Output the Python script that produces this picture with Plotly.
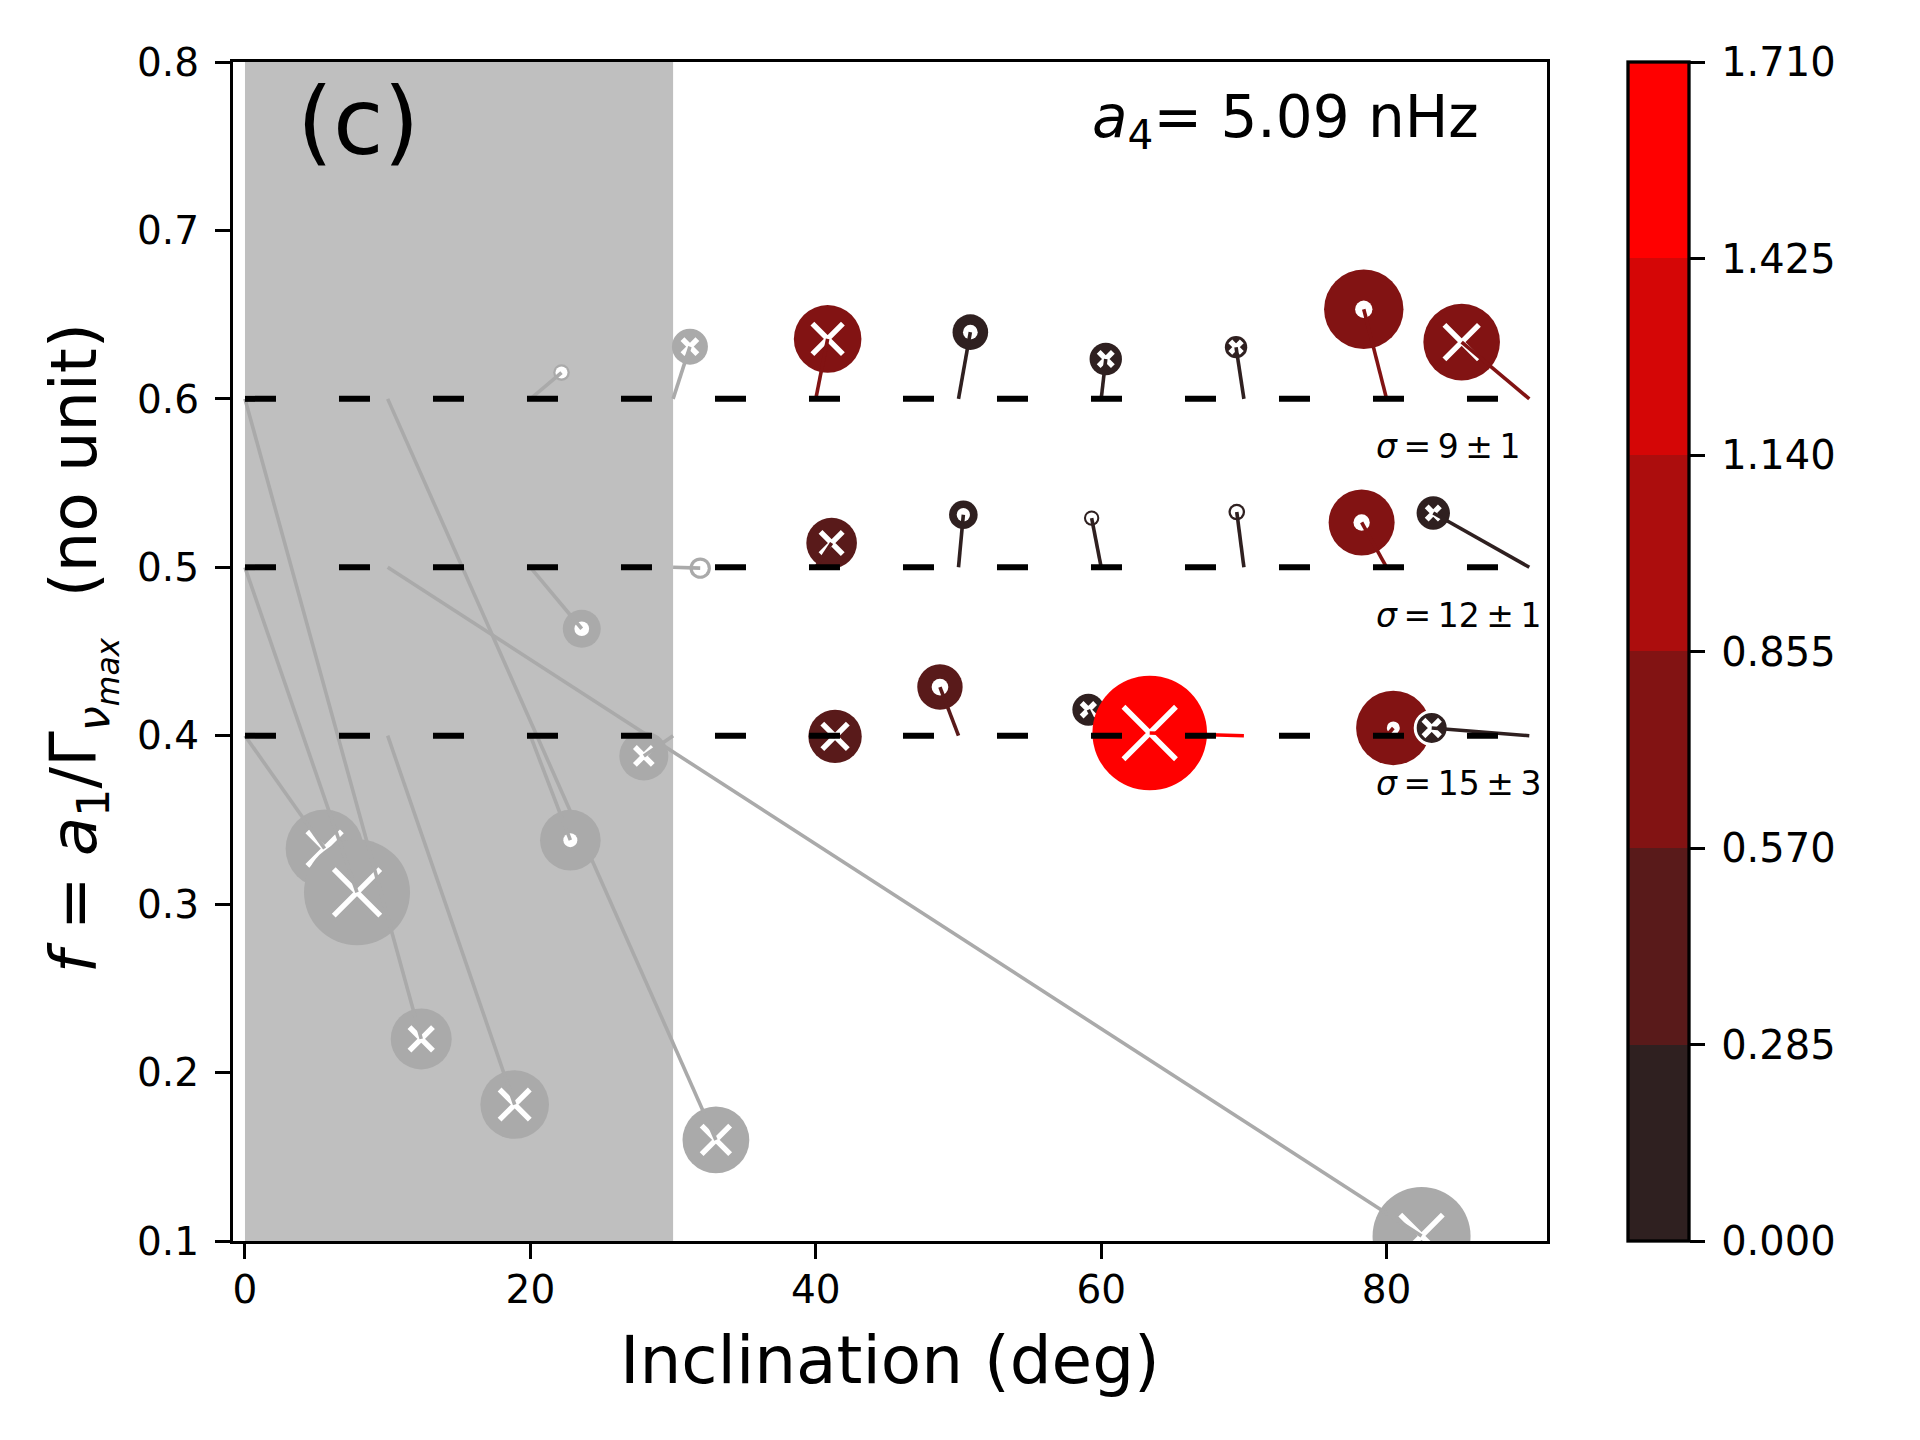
import plotly.graph_objects as go

# ---------------- data ----------------
true_inc = [0, 10, 20, 30, 40, 50, 60, 70, 80, 90]   # injected inclination (deg)
true_f = [0.4, 0.5, 0.6]                             # injected f

# measured results, ordered by (true_inc, true_f)
meas_inc = [5.58, 7.85, 12.35,
            18.9, 82.45, 33.0,
            22.8, 23.6, 22.18,
            27.95, 31.9, 31.18,
            41.35, 41.11, 40.83,
            48.7, 50.34, 50.83,
            59.1, 59.33, 60.32,
            63.4, 69.5, 69.45,
            80.47, 78.25, 78.4,
            83.16, 83.27, 85.26]
meas_f = [0.333, 0.307, 0.220,
          0.181, 0.103, 0.160,
          0.338, 0.4635, 0.6156,
          0.388, 0.4995, 0.631,
          0.3996, 0.5144, 0.6356,
          0.4289, 0.5312, 0.6396,
          0.4154, 0.5292, 0.6237,
          0.4016, 0.5328, 0.6307,
          0.4046, 0.5266, 0.6532,
          0.4046, 0.5322, 0.6337]
bubble = [78, 106, 61,
          68.6, 98, 66.8,
          60.6, 38, 16.6,
          49, 21.4, 36,
          53.4, 50.6, 67.6,
          45.4, 28.6, 35.6,
          32, 15.4, 32.4,
          114.6, 16.6, 22.4,
          74.4, 66, 79.4,
          36, 33.4, 76.6]
inner_kind = ["x", "x", "x",
              "x", "x", "x",
              "o", "o", "o",
              "x", "o", "x",
              "x", "x", "x",
              "o", "o", "o",
              "x", "o", "x",
              "x", "o", "x",
              "o", "o", "o",
              "x", "x", "x"]
inner_size = [38, 50, 27,
              33.7, 46, 32,
              14, 14.7, 12,
              21.4, 15, 18.4,
              29, 25.7, 34,
              16.7, 13.3, 14.7,
              17, 11.3, 17.7,
              56, 12, 15,
              13, 16.3, 17.3,
              20, 16.7, 38]
colour_val = [None, None, None,
              None, None, None,
              None, None, None,
              None, None, None,
              0.42, 0.42, 0.71,
              0.42, 0.14, 0.14,
              0.14, 0.14, 0.14,
              1.57, 0.14, 0.14,
              0.71, 0.71, 0.71,
              0.14, 0.14, 0.71]
highlighted = [27]   # point drawn with a white rim

cb_ticks = [0.000, 0.285, 0.570, 0.855, 1.140, 1.425, 1.710]
cb_colors = ["#2f2020", "#591a1a", "#821313", "#ac0d0d", "#d50606", "#ff0000"]
sigma_labels = {0.6: "9 ± 1", 0.5: "12 ± 1", 0.4: "15 ± 3"}
a4_text = "5.09 nHz"
x_title = "Inclination (deg)"
shade_range = [0, 30]

# ---------------- figure ----------------
FONT = "DejaVu Sans"
GRAY = "#aaaaaa"
TS = "\u2009"
nb = len(cb_colors)
cmax = cb_ticks[-1]
colorscale = []
for i, c in enumerate(cb_colors):
    colorscale += [[i / nb, c], [(i + 1) / nb, c]]

fig = go.Figure()
fig.add_shape(type="rect", xref="x", yref="paper", x0=shade_range[0], x1=shade_range[1],
              y0=0, y1=1, fillcolor="#bfbfbf", line_width=0, layer="below")

pairs = [(ti, tf) for ti in true_inc for tf in true_f]
for k, (ti, tf) in enumerate(pairs):
    mx, my = meas_inc[k], meas_f[k]
    v = colour_val[k]
    if v is None:
        col = GRAY
        mcol = dict(color=GRAY)
    else:
        col = cb_colors[min(int(v / (cmax / nb)), nb - 1)]
        mcol = dict(color=[v], colorscale=colorscale, cmin=0, cmax=cmax)
    edge = 3 if k in highlighted else 0
    fig.add_trace(go.Scatter(
        x=[mx], y=[my], mode="markers", hoverinfo="skip", showlegend=False,
        marker=dict(symbol="circle", size=bubble[k] - edge, line=dict(width=edge, color="white"), **mcol)))
    if inner_kind[k] == "x":
        fig.add_trace(go.Scatter(
            x=[mx], y=[my], mode="markers", hoverinfo="skip", showlegend=False,
            marker=dict(symbol="x-thin", size=max(inner_size[k] - 3.5, 4), color="white",
                        line=dict(width=5.4, color="white"))))
    else:
        fig.add_trace(go.Scatter(
            x=[mx], y=[my], mode="markers", hoverinfo="skip", showlegend=False,
            marker=dict(symbol="circle", size=inner_size[k], color="white", line=dict(width=0))))
    fig.add_trace(go.Scatter(
        x=[ti, mx], y=[tf, my], mode="lines", hoverinfo="skip", showlegend=False,
        line=dict(color=col, width=3.6)))

for tf in true_f:
    fig.add_trace(go.Scatter(
        x=[true_inc[0], true_inc[-1]], y=[tf, tf], mode="lines", hoverinfo="skip", showlegend=False,
        line=dict(color="black", width=6, dash="31px,63px")))

# colourbar carrier
fig.add_trace(go.Scatter(
    x=[None], y=[None], mode="markers", hoverinfo="skip", showlegend=False,
    marker=dict(color=[0], colorscale=colorscale, cmin=0, cmax=cmax, showscale=True,
                colorbar=dict(x=1.0613, xanchor="left", xpad=0, ypad=0, y=0.5, yanchor="middle",
                              len=1, lenmode="fraction", thickness=61,
                              outlinewidth=3.3, outlinecolor="black",
                              tickvals=cb_ticks, ticktext=[TS + "%.3f" % t for t in cb_ticks],
                              ticks="outside", ticklen=15, tickwidth=3.3, tickcolor="black",
                              tickfont=dict(family=FONT, size=40, color="black")))))

annotations = [
    dict(text="(c)", xref="paper", yref="paper", x=(358 - 233) / 1314, y=1 - (122 - 62) / 1179,
         xanchor="center", yanchor="middle", showarrow=False,
         font=dict(family=FONT, size=92, color="black")),
    dict(text="<i>a</i><sub>4</sub>= " + a4_text, xref="paper", yref="paper",
         x=(1481 - 233) / 1314, y=1 - (121 - 62) / 1179,
         xanchor="right", yanchor="middle", showarrow=False,
         font=dict(family=FONT, size=58, color="black")),
    dict(text="<i>f</i> = <i>a</i><sub>1</sub>/Γ<sub><i>ν</i><sub><i>max</i></sub></sub>  (no unit)",
         xref="paper", yref="paper", x=(82 - 233) / 1314, y=0.503,
         xanchor="center", yanchor="middle", textangle=-90, showarrow=False,
         font=dict(family=FONT, size=64, color="black")),
    dict(text=x_title, xref="paper", yref="paper", x=0.5, y=-0.1015,
         xanchor="center", yanchor="middle", showarrow=False,
         font=dict(family=FONT, size=66, color="black")),
]
for tf in true_f:
    lab = sigma_labels[tf].replace(" ", TS)
    annotations.append(dict(text="<i>σ</i>" + TS + "=" + TS + lab, xref="x", yref="y",
                            x=79.1, y=tf - 0.0285,
                            xanchor="left", yanchor="middle", showarrow=False,
                            font=dict(family=FONT, size=33, color="black")))

fig.update_layout(
    width=1920, height=1440, autosize=False,
    margin=dict(l=225, r=381, t=54, b=207, pad=0),
    paper_bgcolor="white", plot_bgcolor="white",
    font=dict(family=FONT, color="black"),
    annotations=annotations,
    xaxis=dict(range=[-0.84, 91.24], tickvals=[0, 20, 40, 60, 80], ticks="outside", ticklen=15,
               tickwidth=3.3, tickcolor="black", showline=True, linewidth=3.3, linecolor="black",
               mirror=True, showgrid=False, zeroline=False, ticklabelstandoff=-3,
               tickfont=dict(family=FONT, size=39)),
    yaxis=dict(range=[0.1, 0.8], tickvals=[0.1, 0.2, 0.3, 0.4, 0.5, 0.6, 0.7, 0.8],
               ticktext=["0.1", "0.2", "0.3", "0.4", "0.5", "0.6", "0.7", "0.8"],
               ticks="outside", ticklen=15, tickwidth=3.3, tickcolor="black",
               showline=True, linewidth=3.3, linecolor="black", mirror=True,
               showgrid=False, zeroline=False, ticklabelstandoff=8,
               tickfont=dict(family=FONT, size=39)),
)

fig.write_html("out.html")
